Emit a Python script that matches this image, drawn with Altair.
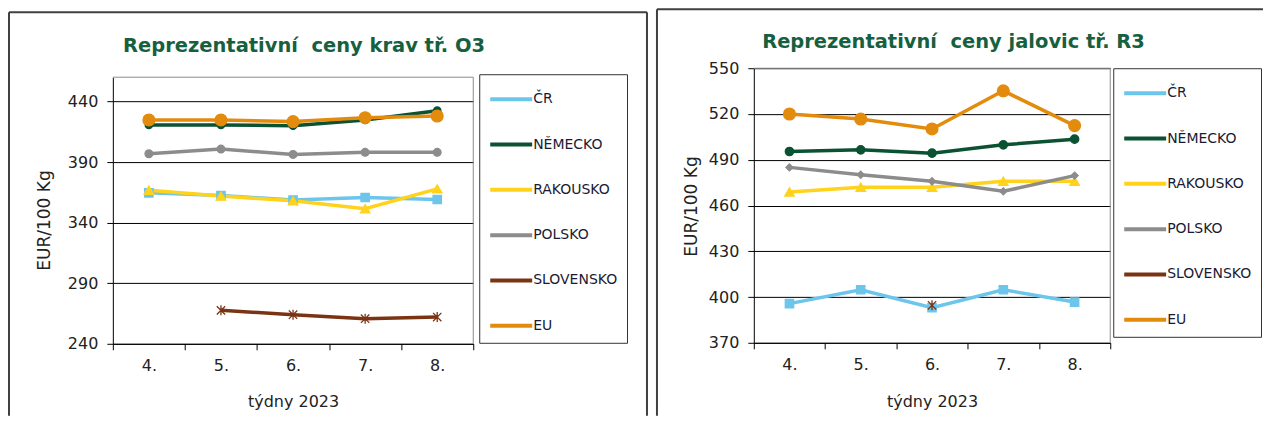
import altair as alt
import pandas as pd

weeks = ["4.", "5.", "6.", "7.", "8."]
countries = ["ČR", "NĚMECKO", "RAKOUSKO", "POLSKO", "SLOVENSKO", "EU"]
colors = ["#6CC5EB", "#0A5232", "#FFD21C", "#8C8C8C", "#7A3414", "#E38B0D"]

# Reprezentativní ceny krav tř. O3
krav_cr = [364.6, 362.4, 358.6, 360.7, 359.1]
krav_de = [420.6, 420.6, 420.0, 424.7, 432.4]
krav_at = [366.8, 361.9, 358.0, 351.5, 367.9]
krav_pl = [396.8, 400.7, 396.3, 398.0, 398.0]
krav_sk = [None, 267.6, 264.0, 260.7, 262.1]
krav_eu = [424.7, 424.7, 423.4, 426.6, 428.0]

# Reprezentativní ceny jalovic tř. R3
jal_cr = [395.7, 404.8, 393.0, 404.8, 396.7]
jal_de = [495.4, 496.5, 494.3, 499.8, 503.5]
jal_at = [468.9, 472.0, 472.0, 475.9, 475.9]
jal_pl = [485.0, 480.2, 475.9, 469.3, 479.6]
jal_sk = [None, None, 394.6, None, None]
jal_eu = [520.0, 516.7, 510.2, 535.2, 512.4]

krav_ticks = [240, 290, 340, 390, 440]
jal_ticks = [370, 400, 430, 460, 490, 520, 550]

FONT = "DejaVu Sans"
STAR = "M-1,-1L1,1M-1,1L1,-1M0,-1.2L0,1.2"


def long(series):
    rows = []
    for c, vals in zip(countries, series):
        for w, v in zip(weeks, vals):
            if v is not None:
                rows.append({"week": w, "country": c, "value": v})
    return pd.DataFrame(rows)


one = pd.DataFrame({"a": [0]})


def panel(df, ydom, yticks, W, H, top, title, tx, ty, legx, legy, fr, ytx, yty, xty,
          shapes, sizes):
    x = alt.X("week:N", sort=weeks, bandPosition=0.5,
              scale=alt.Scale(type="band", paddingInner=0, paddingOuter=0),
              axis=alt.Axis(title="týdny 2023", labelAngle=0, tickBand="extent",
                            labelPadding=8, titleY=xty, titleBaseline="alphabetic",
                            grid=False))
    y = alt.Y("value:Q", scale=alt.Scale(domain=ydom, nice=False, zero=False, range=[H, top]),
              axis=alt.Axis(values=yticks, title="EUR/100 Kg", grid=True,
                            labelPadding=9, titleX=ytx, titleY=yty,
                            titleBaseline="alphabetic", titleAlign="center",
                            titleFontSize=17))
    lines = alt.Chart(df).mark_line(strokeWidth=3.5).encode(
        x=x, y=y,
        color=alt.Color("country:N", sort=countries,
                        scale=alt.Scale(domain=countries, range=colors),
                        legend=alt.Legend(orient="none", legendX=legx, legendY=legy,
                                          title=None, symbolType="M-1,0H2",
                                          symbolSize=784, symbolStrokeWidth=4,
                                          labelFont=FONT, labelFontSize=14,
                                          labelColor="#1a1a33", labelOffset=13,
                                          padding=9, rowPadding=21.4,
                                          strokeColor="#333333")),
    )
    pts = []
    for c, col, shp, sz in zip(countries, colors, shapes, sizes):
        pts.append(
            alt.Chart(df).transform_filter(alt.datum.country == c).mark_point(
                filled=True, opacity=1, strokeWidth=1.3, shape=shp, size=sz,
                fill=col, stroke=col
            ).encode(x=x, y=y)
        )
    ttl = alt.Chart(one).mark_text(text=title, font=FONT, fontSize=19.5, fontWeight="bold",
                                   color="#17603F", align="center",
                                   baseline="alphabetic").encode(
        x=alt.value(tx), y=alt.value(ty))
    fx1, fx2, fy1, fy2, right = fr
    fs = dict(color="#404040", strokeWidth=2)
    ps = dict(color="#8C8C8C", strokeWidth=1)
    deco = [
        alt.Chart(one).mark_rule(**fs).encode(x=alt.value(fx1), x2=alt.value(fx2), y=alt.value(fy1)),
        alt.Chart(one).mark_rule(**fs).encode(x=alt.value(fx1), y=alt.value(fy1), y2=alt.value(fy2)),
        alt.Chart(one).mark_rule(**ps).encode(x=alt.value(0), x2=alt.value(W), y=alt.value(top)),
        alt.Chart(one).mark_rule(**ps).encode(x=alt.value(W), y=alt.value(top), y2=alt.value(H)),
    ]
    if right:
        deco.append(alt.Chart(one).mark_rule(**fs).encode(x=alt.value(fx2), y=alt.value(fy1),
                                                          y2=alt.value(fy2)))
    return alt.layer(*deco, ttl, lines, *pts).properties(width=W, height=H)


left = panel(long([krav_cr, krav_de, krav_at, krav_pl, krav_sk, krav_eu]),
             [240, 460], krav_ticks, 361, 276, 9,
             "Reprezentativní\u00a0 ceny krav tř. O3", 191.5, -16,
             367, 6, (-104, 535, -56, 348, True), -63, 152, 63,
             ["square", "circle", "triangle-up", "circle", STAR, "circle"],
             [70, 55, 90, 60, 70, 140])

right = panel(long([jal_cr, jal_de, jal_at, jal_pl, jal_sk, jal_eu]),
              [370, 550], jal_ticks, 357, 275, 0,
              "Reprezentativní\u00a0 ceny jalovic tř. R3", 200, -20,
              360, 0, (-97, 510, -59, 348, False), -57, 138, 64,
              ["square", "circle", "triangle-up", "diamond", STAR, "circle"],
              [70, 70, 90, 50, 70, 140])

chart = alt.hconcat(left, right, spacing=8).resolve_scale(
    color="independent"
).properties(padding=0).configure_view(
    stroke=None
).configure_axis(
    labelFont=FONT, labelFontSize=16, labelColor="#222222",
    titleFont=FONT, titleFontSize=16, titleFontWeight="normal", titleColor="#222222",
    domainColor="#000000", tickColor="#000000", tickSize=6,
    gridColor="#000000", gridWidth=1
)

chart.save("out.html", embed_options={"renderer": "svg", "actions": False})
